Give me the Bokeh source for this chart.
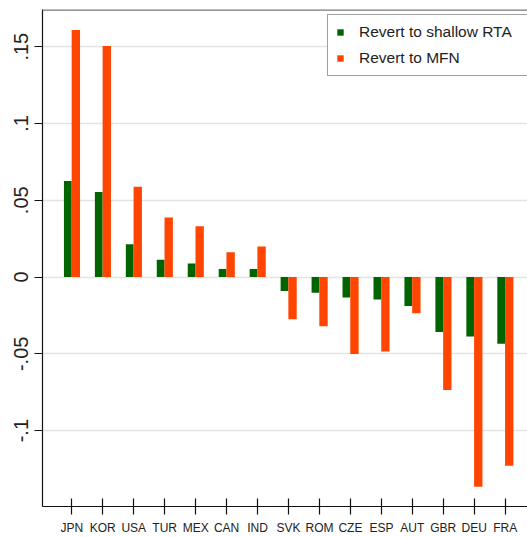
from bokeh.plotting import figure
from bokeh.models import ColumnDataSource, FixedTicker, Range1d, Span, Legend, LegendItem
from bokeh.transform import dodge
from bokeh.embed import file_html
from bokeh.resources import INLINE

# Welfare change by country, two scenarios
countries = ["JPN", "KOR", "USA", "TUR", "MEX", "CAN", "IND", "SVK",
             "ROM", "CZE", "ESP", "AUT", "GBR", "DEU", "FRA"]
shallow_rta = [0.0625, 0.0553, 0.0214, 0.0112, 0.0089, 0.0052, 0.0052, -0.0091,
               -0.0102, -0.0134, -0.0147, -0.0188, -0.0358, -0.0387, -0.0435]
mfn = [0.1608, 0.1505, 0.0588, 0.0387, 0.0331, 0.0162, 0.0199, -0.0275,
       -0.0320, -0.0501, -0.0484, -0.0235, -0.0735, -0.1366, -0.1228]

y_ticks = [-0.1, -0.05, 0, 0.05, 0.1, 0.15]
y_tick_labels = ["-.1", "-.05", "0", ".05", ".1", ".15"]
legend_labels = ["Revert to shallow RTA", "Revert to MFN"]

GREEN = "#006400"
ORANGE = "#ff4500"
FONT = "Liberation Sans"
Y_TOP = 0.1742

pos = list(range(len(countries)))
source = ColumnDataSource(data=dict(pos=pos, country=countries, rta=shallow_rta, mfn=mfn))

p = figure(width=527, height=537, output_backend="svg", toolbar_location=None,
           x_range=Range1d(-0.947, 14.72), y_range=Range1d(-0.1494, Y_TOP),
           min_border_left=42, min_border_right=0, min_border_top=9, min_border_bottom=0,
           background_fill_color="white", border_fill_color="white")
p.outline_line_color = None

r1 = p.vbar(x=dodge("pos", -0.13, range=p.x_range), top="rta", width=0.25,
            source=source, color=GREEN, line_color=None)
r2 = p.vbar(x=dodge("pos", 0.13, range=p.x_range), top="mfn", width=0.27,
            source=source, color=ORANGE, line_color=None)

# top border only (right side is cut off in the original)
p.add_layout(Span(location=Y_TOP, dimension="width", line_color="#777777", line_width=2.5))

# x axis
p.xaxis.ticker = FixedTicker(ticks=pos)
p.xaxis.major_label_overrides = {i: c for i, c in zip(pos, countries)}
p.xaxis.major_tick_in = 8
p.xaxis.major_tick_out = 8
p.xaxis.minor_tick_line_color = None
p.xaxis.major_label_standoff = 6
p.xaxis.major_label_text_font = FONT
p.xaxis.major_label_text_font_size = "12px"
p.xaxis.major_label_text_color = "#222222"
p.xaxis.axis_line_color = "#111111"
p.xaxis.axis_line_width = 1.2
p.xaxis.major_tick_line_color = "#111111"
p.xaxis.major_tick_line_width = 1.2

# y axis
p.yaxis.ticker = FixedTicker(ticks=y_ticks)
p.yaxis.major_label_overrides = {t: l for t, l in zip(y_ticks, y_tick_labels)}
p.yaxis.major_label_orientation = "vertical"
p.yaxis.major_tick_in = 0
p.yaxis.major_tick_out = 8
p.yaxis.minor_tick_line_color = None
p.yaxis.major_label_standoff = 6
p.yaxis.major_label_text_font = FONT
p.yaxis.major_label_text_font_size = "20px"
p.yaxis.major_label_text_color = "#222222"
p.yaxis.axis_line_color = "#111111"
p.yaxis.axis_line_width = 1.2
p.yaxis.major_tick_line_color = "#111111"
p.yaxis.major_tick_line_width = 1.2

p.xgrid.grid_line_color = None
p.ygrid.ticker = FixedTicker(ticks=y_ticks)
p.ygrid.grid_line_color = "#e4e4e4"
p.ygrid.grid_line_width = 1.5

legend = Legend(items=[LegendItem(label=legend_labels[0], renderers=[r1]),
                       LegendItem(label=legend_labels[1], renderers=[r2])],
                location=(285, 430))
legend.border_line_color = "#444444"
legend.border_line_width = 1.2
legend.padding = 8
legend.spacing = 8
legend.margin = 0
legend.label_height = 18
legend.glyph_width = 8
legend.glyph_height = 8
legend.label_standoff = 15
legend.label_width = 220
legend.label_text_font = FONT
legend.label_text_font_size = "15.5px"
legend.label_text_color = "#222222"
p.add_layout(legend)

open("out.html", "w").write(file_html(p, INLINE))
